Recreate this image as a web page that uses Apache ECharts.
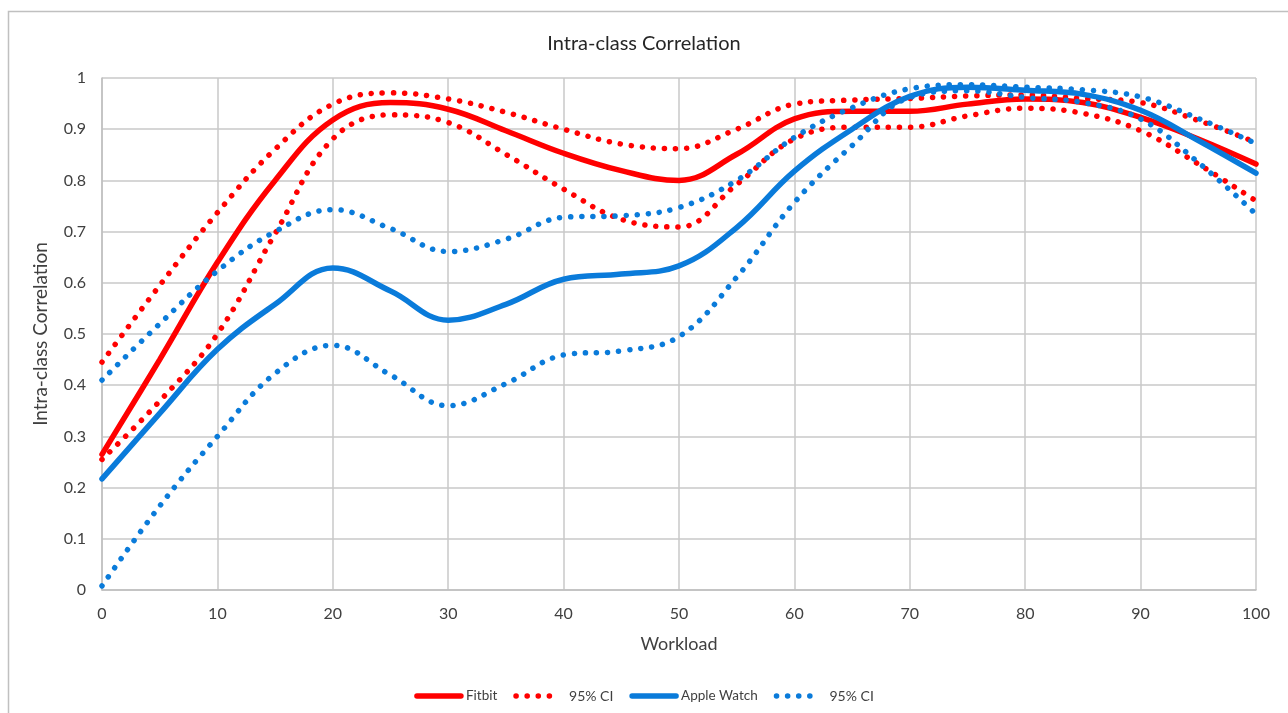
<!DOCTYPE html>
<html>
<head>
<meta charset="utf-8">
<style>
  html, body { margin: 0; padding: 0; background: #ffffff; }
  #chart { width: 1288px; height: 713px; }
</style>
<script src="https://cdn.jsdelivr.net/npm/echarts@6/dist/echarts.min.js"></script>
</head>
<body>
<div id="chart"></div>
<script>
const workload = [0, 5, 10, 15, 20, 25, 30, 35, 40, 45, 50, 55, 60, 65, 70, 75, 80, 85, 90, 95, 100];

const fitbit   = [0.265, 0.45, 0.64, 0.80, 0.918, 0.952, 0.939, 0.897, 0.853, 0.819, 0.800, 0.851, 0.920, 0.935, 0.935, 0.949, 0.959, 0.952, 0.923, 0.881, 0.832];
const fitbitHi = [0.445, 0.595, 0.737, 0.861, 0.949, 0.971, 0.959, 0.933, 0.900, 0.871, 0.862, 0.900, 0.949, 0.957, 0.960, 0.965, 0.967, 0.960, 0.952, 0.917, 0.874];
const fitbitLo = [0.255, 0.369, 0.500, 0.696, 0.881, 0.928, 0.913, 0.851, 0.783, 0.724, 0.709, 0.792, 0.881, 0.904, 0.904, 0.926, 0.941, 0.931, 0.897, 0.832, 0.760];

const apple   = [0.217, 0.345, 0.470, 0.558, 0.629, 0.584, 0.527, 0.558, 0.607, 0.617, 0.633, 0.708, 0.818, 0.900, 0.964, 0.982, 0.976, 0.968, 0.937, 0.878, 0.814];
const appleHi = [0.410, 0.520, 0.623, 0.700, 0.743, 0.706, 0.661, 0.685, 0.728, 0.731, 0.747, 0.800, 0.884, 0.942, 0.979, 0.987, 0.982, 0.977, 0.963, 0.921, 0.872];
const appleLo = [0.008, 0.164, 0.300, 0.423, 0.478, 0.420, 0.360, 0.403, 0.459, 0.467, 0.495, 0.611, 0.757, 0.868, 0.962, 0.975, 0.962, 0.952, 0.920, 0.835, 0.734];

const xTicks = [0, 10, 20, 30, 40, 50, 60, 70, 80, 90, 100];
const yTicks = [0, 0.1, 0.2, 0.3, 0.4, 0.5, 0.6, 0.7, 0.8, 0.9, 1];

const titleText = 'Intra-class Correlation';
const xName = 'Workload';
const yName = 'Intra-class Correlation';
const names = ['Fitbit', '95% CI', 'Apple Watch', '95% CI '];

const RED = '#FF0000';
const BLUE = '#0A7BDA';
const FONT = 'Lato, "Open Sans", sans-serif';
const TXT = '#404040';

function pts(ys) { return workload.map((x, i) => [x, ys[i]]); }

function solid(name, ys, color) {
  return {
    name, type: 'line', data: pts(ys), smooth: 0.4, symbol: 'none',
    lineStyle: { color, width: 5.5, cap: 'round' }, itemStyle: { color },
    emphasis: { disabled: true }, silent: true
  };
}
function dotted(name, ys, color) {
  return {
    name, type: 'line', data: pts(ys), smooth: 0.4, symbol: 'none',
    lineStyle: { color, width: 5.5, type: [0.1, 11], cap: 'round' }, itemStyle: { color },
    emphasis: { disabled: true }, silent: true
  };
}

const chart = echarts.init(document.getElementById('chart'), null, { renderer: 'canvas' });
chart.setOption({
  animation: false,
  backgroundColor: '#ffffff',
  title: {
    text: titleText, left: 'center', top: 29,
    textStyle: { fontFamily: FONT, fontSize: 20, fontWeight: 'normal', color: '#262626' }
  },
  graphic: [{
    type: 'rect', silent: true,
    shape: { x: 8.5, y: 11.5, width: 1300, height: 730 },
    style: { fill: 'none', stroke: '#c0c0c0', lineWidth: 1.5 }
  }],
  grid: { left: 102, right: 32, top: 78, bottom: 123, containLabel: false },
  legend: {
    data: names,
    bottom: 5, left: 'center',
    itemWidth: 44, itemHeight: 12, itemGap: 16,
    itemStyle: { opacity: 0, borderWidth: 0 },
    lineStyle: { width: 5.5 },
    textStyle: { fontFamily: FONT, fontSize: 13.5, color: TXT,
      rich: { ci: { fontFamily: FONT, fontSize: 14, color: TXT, padding: [0, 0, 0, 4] } } },
    formatter: function (n) { return n.indexOf('95%') === 0 ? '{ci|' + n.trim() + '}' : n; },
    selectedMode: false
  },
  xAxis: {
    type: 'value', min: xTicks[0], max: xTicks[xTicks.length - 1], interval: 10,
    name: xName, nameLocation: 'middle', nameGap: 45,
    nameTextStyle: { fontFamily: FONT, fontSize: 18, color: TXT },
    axisLine: { show: true, lineStyle: { color: '#bfbfbf', width: 1.5 } },
    axisTick: { show: false },
    axisLabel: { fontFamily: FONT, fontSize: 16, color: TXT, margin: 16 },
    splitLine: { show: true, lineStyle: { color: '#c8c8c8', width: 1.5 } }
  },
  yAxis: {
    type: 'value', min: yTicks[0], max: yTicks[yTicks.length - 1], interval: 0.1,
    name: yName, nameLocation: 'middle', nameGap: 52, nameRotate: 90,
    nameTextStyle: { fontFamily: FONT, fontSize: 19, color: TXT },
    axisLine: { show: true, lineStyle: { color: '#bfbfbf', width: 1.5 } },
    axisTick: { show: false },
    axisLabel: { fontFamily: FONT, fontSize: 16, color: TXT, margin: 16,
      formatter: function (v) { return String(Math.round(v * 10) / 10); } },
    splitLine: { show: true, lineStyle: { color: '#c8c8c8', width: 1.5 } }
  },
  series: [
    solid(names[0], fitbit, RED),
    dotted(names[1], fitbitHi, RED),
    dotted(names[1], fitbitLo, RED),
    solid(names[2], apple, BLUE),
    dotted(names[3], appleHi, BLUE),
    dotted(names[3], appleLo, BLUE)
  ]
});
</script>
</body>
</html>
